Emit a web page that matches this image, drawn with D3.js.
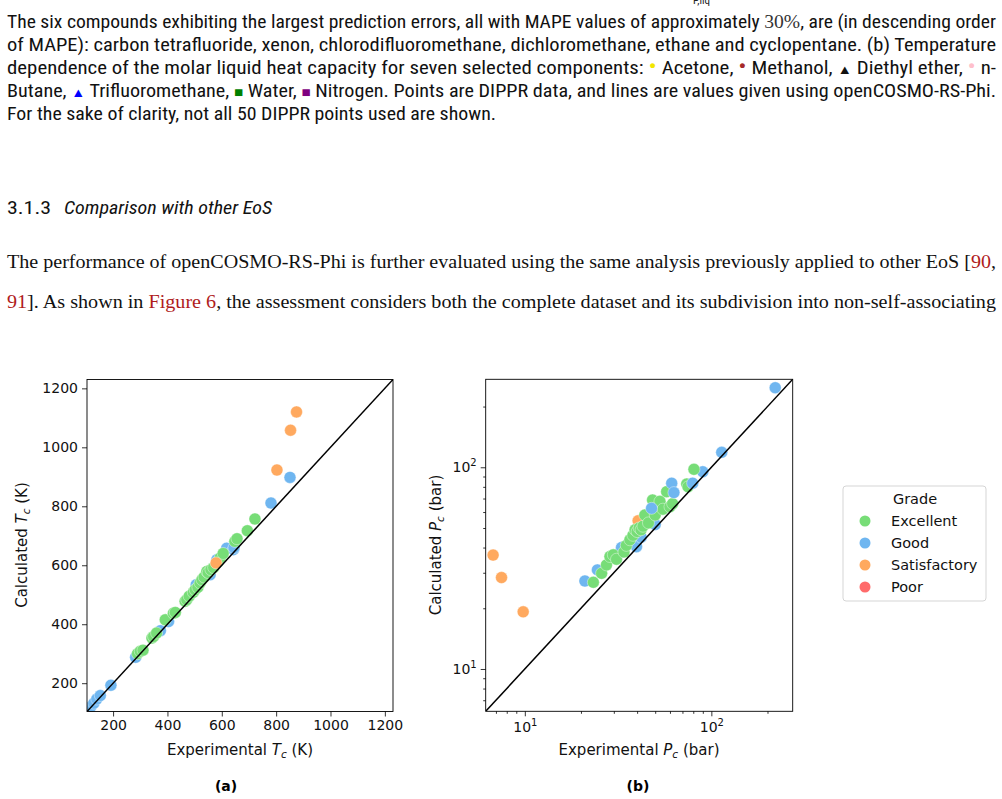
<!DOCTYPE html>
<html>
<head>
<meta charset="utf-8">
<script src="https://cdn.jsdelivr.net/npm/d3@7"></script>
<style>
  body { margin: 0; background: #fff; }
</style>
</head>
<body>
<svg id="page" width="1002" height="799"></svg>
<script>
const GRADES = ["Excellent", "Good", "Satisfactory", "Poor"];
const GRADE_COLORS = ["#77dd77", "#6fb6f0", "#ffa95f", "#ff6b6b"];

// (a) critical temperature, [experimental, calculated] in K
const tcGood = [[118, 120], [129, 132], [140, 146], [153, 158], [192, 193], [283, 288],
  [374, 378], [404, 409], [506, 534], [557, 568], [582, 619], [618, 658], [643, 653],
  [645, 660], [781, 811], [851, 898]];
const tcExcellent = [[290, 300], [300, 308], [310, 312], [343, 353], [349, 358], [360, 370],
  [392, 415], [422, 437], [429, 440], [465, 478], [471, 483], [480, 495], [495, 508],
  [502, 517], [512, 525], [520, 540], [527, 551], [535, 560], [545, 579], [550, 575],
  [560, 585], [570, 592], [585, 610], [594, 625], [605, 640], [648, 681], [656, 690],
  [694, 717], [722, 757]];
const tcSatisfactory = [[579, 608], [803, 923], [853, 1058], [875, 1120]];
const tcPoor = [];
const tcTicks = [200, 400, 600, 800, 1000, 1200];

// (b) critical pressure, [experimental, calculated] in bar
const pcSatisfactory = [[6.76, 36.7], [7.5, 28.4], [9.8, 19.2], [40.5, 54.3]];
const pcGood = [[21, 27.3], [24.5, 31], [32.1, 37.5], [33, 40], [36, 42], [39.7, 40.4],
  [42, 45], [48.8, 53.7], [50, 52], [90, 95], [113.7, 118.6], [220, 248]];
const pcExcellent = [[23.3, 26.9], [25.8, 29.8], [27.4, 32.8], [28.6, 36.1], [29.8, 36.8],
  [31, 35], [34, 38], [35, 41], [36.6, 43.7], [38, 46], [39, 49], [40, 48], [41, 50],
  [42, 49], [43, 51], [44, 58], [46, 53], [48.4, 68.8], [50, 58], [53, 67.8], [55, 62],
  [57.6, 75.7], [60, 63.7], [62, 66], [73.8, 82.6], [75, 80], [80.7, 97.7]];
const pcGoodTop = [[47.8, 62.6], [61.3, 83.4], [63, 74.9], [79.4, 83.4]];
const pcPoor = [];
const pcMajor = [10, 100];
const pcMinor = [7, 8, 9, 20, 30, 40, 50, 60, 70, 80, 90, 200];

const svg = d3.select("#page");
svg.append("rect").attr("width", 1002).attr("height", 799).attr("fill", "#fff");

/* ---------- surrounding text ---------- */
const SANS = '"DejaVu Sans", sans-serif';
const SANS_N = '"Roboto Condensed", "Liberation Sans Narrow", "Roboto", sans-serif';
const SERIF = '"Liberation Serif", "DejaVu Serif", serif';

svg.append("text").attr("x", 693).attr("y", 4).attr("font-size", 11)
  .attr("font-family", SANS_N).attr("fill", "#222").text("P,liq");

function textLine(y, parts, width, opts = {}) {
  const t = svg.append("text").attr("x", opts.x || 7).attr("y", y)
    .attr("font-size", opts.size || 18.5)
    .attr("font-family", opts.family || SANS_N)
    .attr("fill", "#111");
  if (opts.italic) t.attr("font-style", "italic");
  if (width) t.attr("textLength", width).attr("lengthAdjust", "spacingAndGlyphs");
  parts.forEach(p => {
    const s = t.append("tspan").text(p.t);
    if (p.c) s.attr("fill", p.c);
    if (p.f) s.attr("font-family", p.f);
    if (p.s) s.attr("font-size", p.s);
  });
  return t;
}

textLine(28, [{ t: "The six compounds exhibiting the largest prediction errors, all with MAPE values of approximately " },
  { t: "30%", f: SERIF, c: "#333" }, { t: ", are (in descending order" }], 989);
textLine(51, [{ t: "of MAPE): carbon tetrafluoride, xenon, chlorodifluoromethane, dichloromethane, ethane and cyclopentane.  (b) Temperature" }], 989);
textLine(74, [{ t: "dependence of the molar liquid heat capacity for seven selected components: " },
  { t: "•", c: "#f2e600", s: 22 }, { t: " Acetone, " }, { t: "•", c: "#a52a2a", s: 22 }, { t: " Methanol, " },
  { t: "▲", s: 13 }, { t: " Diethyl ether, " }, { t: "•", c: "#ffc0cb", s: 22 }, { t: " n-" }], 989);
textLine(97, [{ t: "Butane, " }, { t: "▲", c: "#0000ff", s: 13 }, { t: " Trifluoromethane, " },
  { t: "■", c: "#008000", s: 14 }, { t: " Water, " }, { t: "■", c: "#800080", s: 14 },
  { t: " Nitrogen. Points are DIPPR data, and lines are values given using openCOSMO-RS-Phi." }], 989);
textLine(120, [{ t: "For the sake of clarity, not all 50 DIPPR points used are shown." }], 489);

textLine(214, [{ t: "3.1.3" }], 44);
textLine(214, [{ t: "Comparison with other EoS" }], 208, { x: 64, italic: true });

const RED = "#b01c1c";
textLine(268, [{ t: "The performance of openCOSMO-RS-Phi is further evaluated using the same analysis previously applied to other EoS [" },
  { t: "90", c: RED }, { t: "," }], 989, { family: SERIF, size: 19.5 });
textLine(308, [{ t: "91", c: RED }, { t: "].  As shown in " }, { t: "Figure 6", c: RED },
  { t: ", the assessment considers both the complete dataset and its subdivision into non-self-associating" }],
  989, { family: SERIF, size: 19.5 });

/* ---------- scatter panels ---------- */
function drawPoints(g, x, y, list, color) {
  g.selectAll(null).data(list).enter().append("circle")
    .attr("cx", d => x(d[0])).attr("cy", d => y(d[1])).attr("r", 6)
    .attr("fill", color).attr("stroke", "#fff").attr("stroke-width", 0.4);
}

function styleAxis(sel) {
  sel.select(".domain").remove();
  sel.selectAll(".tick line").attr("stroke", "#000").attr("stroke-width", 0.8);
  sel.selectAll(".tick text").attr("font-size", 14).attr("fill", "#111")
    .attr("font-family", SANS);
}

function label(g, x, y, pre, sym, post, rotate) {
  const t = g.append("text").attr("font-size", 15).attr("fill", "#111")
    .attr("font-family", SANS).attr("text-anchor", "middle")
    .attr("transform", `translate(${x},${y})` + (rotate ? "rotate(-90)" : ""));
  t.append("tspan").text(pre);
  t.append("tspan").attr("font-style", "italic").text(sym);
  t.append("tspan").attr("font-style", "italic").attr("font-size", 10.5).attr("dy", 3).text("c");
  t.append("tspan").attr("dy", -3).text(post);
}

// (a)
const wA = 306, hA = 332;
const gA = svg.append("g").attr("transform", "translate(87,379.5)");
const xA = d3.scaleLinear().domain([104, 1230]).range([0, wA]);
const yA = d3.scaleLinear().domain([104, 1230]).range([hA, 0]);
gA.append("defs").append("clipPath").attr("id", "clipA")
  .append("rect").attr("width", wA).attr("height", hA);
const pA = gA.append("g").attr("clip-path", "url(#clipA)");
drawPoints(pA, xA, yA, tcGood, GRADE_COLORS[1]);
drawPoints(pA, xA, yA, tcExcellent, GRADE_COLORS[0]);
drawPoints(pA, xA, yA, tcSatisfactory, GRADE_COLORS[2]);
drawPoints(pA, xA, yA, tcPoor, GRADE_COLORS[3]);
pA.append("line").attr("x1", xA(104)).attr("y1", yA(104)).attr("x2", xA(1230)).attr("y2", yA(1230))
  .attr("stroke", "#000").attr("stroke-width", 1.5);
gA.append("g").attr("transform", `translate(0,${hA})`)
  .call(d3.axisBottom(xA).tickValues(tcTicks).tickFormat(d3.format("d")).tickSize(5).tickPadding(4))
  .call(styleAxis);
gA.append("g")
  .call(d3.axisLeft(yA).tickValues(tcTicks).tickFormat(d3.format("d")).tickSize(5).tickPadding(4))
  .call(styleAxis);
gA.append("rect").attr("width", wA).attr("height", hA).attr("fill", "none")
  .attr("stroke", "#000").attr("stroke-width", 0.9);
label(svg, 240, 755, "Experimental ", "T", " (K)", false);
label(svg, 27, 545, "Calculated ", "T", " (K)", true);
svg.append("text").attr("x", 226).attr("y", 791).attr("text-anchor", "middle")
  .attr("font-family", SANS).attr("font-size", 14).attr("font-weight", "bold").text("(a)");

// (b)
const wB = 307, hB = 332;
const gB = svg.append("g").attr("transform", "translate(485.7,379.3)");
const xB = d3.scaleLog().domain([6.17, 273]).range([0, wB]);
const yB = d3.scaleLog().domain([6.17, 273]).range([hB, 0]);
gB.append("defs").append("clipPath").attr("id", "clipB")
  .append("rect").attr("width", wB).attr("height", hB);
const pB = gB.append("g").attr("clip-path", "url(#clipB)");
drawPoints(pB, xB, yB, pcSatisfactory, GRADE_COLORS[2]);
drawPoints(pB, xB, yB, pcGood, GRADE_COLORS[1]);
drawPoints(pB, xB, yB, pcExcellent, GRADE_COLORS[0]);
drawPoints(pB, xB, yB, pcGoodTop, GRADE_COLORS[1]);
drawPoints(pB, xB, yB, pcPoor, GRADE_COLORS[3]);
pB.append("line").attr("x1", xB(6.17)).attr("y1", yB(6.17)).attr("x2", xB(273)).attr("y2", yB(273))
  .attr("stroke", "#000").attr("stroke-width", 1.5);

function powLabel(sel) {
  sel.selectAll(".tick text").each(function (d) {
    const t = d3.select(this).text("");
    t.append("tspan").text("10");
    t.append("tspan").attr("font-size", 10).attr("dy", -6).text(Math.round(Math.log10(d)));
  });
}
gB.append("g").attr("transform", `translate(0,${hB})`)
  .call(d3.axisBottom(xB).tickValues(pcMinor).tickSize(2.5).tickFormat("")).call(styleAxis);
gB.append("g").attr("transform", `translate(0,${hB})`)
  .call(d3.axisBottom(xB).tickValues(pcMajor).tickSize(5).tickPadding(6)).call(styleAxis).call(powLabel);
gB.append("g").call(d3.axisLeft(yB).tickValues(pcMinor).tickSize(2.5).tickFormat("")).call(styleAxis);
gB.append("g").call(d3.axisLeft(yB).tickValues(pcMajor).tickSize(5).tickPadding(4)).call(styleAxis).call(powLabel);
gB.append("rect").attr("width", wB).attr("height", hB).attr("fill", "none")
  .attr("stroke", "#000").attr("stroke-width", 0.9);
label(svg, 639, 755, "Experimental ", "P", " (bar)", false);
label(svg, 441, 545, "Calculated ", "P", " (bar)", true);
svg.append("text").attr("x", 638).attr("y", 791).attr("text-anchor", "middle")
  .attr("font-family", SANS).attr("font-size", 14).attr("font-weight", "bold").text("(b)");

/* ---------- legend ---------- */
const lg = svg.append("g").attr("transform", "translate(843,486)").attr("font-family", SANS);
lg.append("rect").attr("width", 143).attr("height", 115).attr("rx", 3)
  .attr("fill", "#fff").attr("stroke", "#d5d5d5").attr("stroke-width", 1);
lg.append("text").attr("x", 72).attr("y", 18).attr("text-anchor", "middle")
  .attr("font-size", 14.5).attr("fill", "#111").text("Grade");
const item = lg.selectAll(".item").data(GRADES).enter().append("g")
  .attr("transform", (d, i) => `translate(0,${35 + i * 22})`);
item.append("circle").attr("cx", 22).attr("r", 5.5).attr("fill", (d, i) => GRADE_COLORS[i]);
item.append("text").attr("x", 48).attr("y", 5).attr("font-size", 14.5).attr("fill", "#111").text(d => d);
</script>
</body>
</html>
